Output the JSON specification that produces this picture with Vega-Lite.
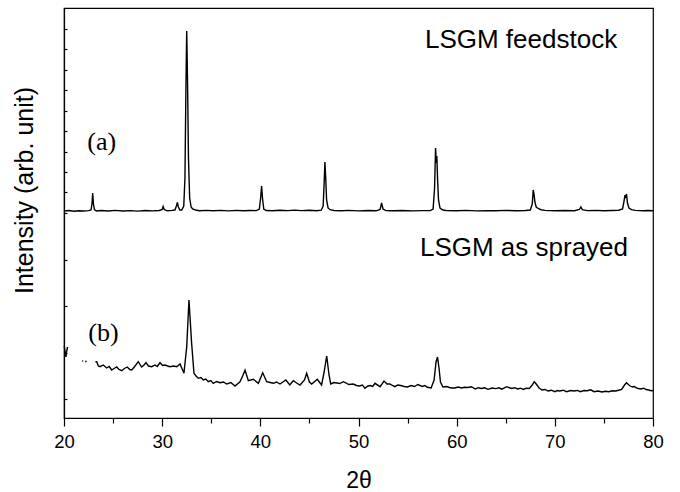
{
  "$schema": "https://vega.github.io/schema/vega-lite/v6.json",
  "width": 589,
  "height": 410,
  "autosize": {"type": "none"},
  "padding": {"left": 64, "top": 8, "right": 27, "bottom": 74},
  "config": {
    "view": {"stroke": "black", "strokeWidth": 1.2},
    "axis": {"grid": false, "domainColor": "black", "domainWidth": 1.2, "tickColor": "black", "tickWidth": 1.2, "labelColor": "black", "titleColor": "black", "labelFont": "Liberation Sans", "titleFont": "Liberation Sans", "titleFontWeight": "normal", "labelFlush": false}
  },
  "datasets": {
    "traces": [
      {"t": 20.0, "i": 207, "s": "a"}, {"t": 20.5, "i": 207.5, "s": "a"}, {"t": 21.0, "i": 206.8, "s": "a"}, {"t": 21.5, "i": 207.3, "s": "a"}, {"t": 22.0, "i": 207, "s": "a"}, {"t": 22.5, "i": 207.4, "s": "a"}, {"t": 22.75, "i": 208, "s": "a"}, {"t": 22.85, "i": 214, "s": "a"}, {"t": 22.92, "i": 225, "s": "a"}, {"t": 23.0, "i": 214, "s": "a"}, {"t": 23.1, "i": 208.5, "s": "a"}, {"t": 23.3, "i": 207, "s": "a"}, {"t": 23.8, "i": 207.5, "s": "a"}, {"t": 24.5, "i": 207, "s": "a"}, {"t": 25.2, "i": 207.6, "s": "a"}, {"t": 26.0, "i": 207, "s": "a"}, {"t": 26.8, "i": 207.4, "s": "a"}, {"t": 27.5, "i": 206.9, "s": "a"}, {"t": 28.3, "i": 207.5, "s": "a"}, {"t": 29.0, "i": 207.1, "s": "a"}, {"t": 29.7, "i": 207.5, "s": "a"}, {"t": 30.0, "i": 208.5, "s": "a"}, {"t": 30.1, "i": 211.5, "s": "a"}, {"t": 30.2, "i": 208.5, "s": "a"}, {"t": 30.5, "i": 207.2, "s": "a"}, {"t": 31.0, "i": 207.6, "s": "a"}, {"t": 31.3, "i": 208, "s": "a"}, {"t": 31.45, "i": 212, "s": "a"}, {"t": 31.55, "i": 215.5, "s": "a"}, {"t": 31.65, "i": 211, "s": "a"}, {"t": 31.8, "i": 208, "s": "a"}, {"t": 32.0, "i": 208, "s": "a"}, {"t": 32.2, "i": 212, "s": "a"}, {"t": 32.32, "i": 240, "s": "a"}, {"t": 32.42, "i": 330, "s": "a"}, {"t": 32.5, "i": 387, "s": "a"}, {"t": 32.58, "i": 340, "s": "a"}, {"t": 32.68, "i": 260, "s": "a"}, {"t": 32.8, "i": 220, "s": "a"}, {"t": 32.95, "i": 211, "s": "a"}, {"t": 33.1, "i": 209, "s": "a"}, {"t": 33.4, "i": 208, "s": "a"}, {"t": 33.8, "i": 207.3, "s": "a"}, {"t": 34.5, "i": 207.6, "s": "a"}, {"t": 35.2, "i": 207.2, "s": "a"}, {"t": 36.0, "i": 207.6, "s": "a"}, {"t": 36.8, "i": 207.1, "s": "a"}, {"t": 37.5, "i": 207.6, "s": "a"}, {"t": 38.3, "i": 207.2, "s": "a"}, {"t": 39.0, "i": 207.5, "s": "a"}, {"t": 39.6, "i": 207.4, "s": "a"}, {"t": 39.9, "i": 209, "s": "a"}, {"t": 40.03, "i": 220, "s": "a"}, {"t": 40.13, "i": 232, "s": "a"}, {"t": 40.23, "i": 219, "s": "a"}, {"t": 40.35, "i": 209, "s": "a"}, {"t": 40.6, "i": 207.5, "s": "a"}, {"t": 41.2, "i": 207.2, "s": "a"}, {"t": 42.0, "i": 207.8, "s": "a"}, {"t": 42.8, "i": 207.4, "s": "a"}, {"t": 43.5, "i": 207.9, "s": "a"}, {"t": 44.2, "i": 207.4, "s": "a"}, {"t": 45.0, "i": 207.8, "s": "a"}, {"t": 45.7, "i": 207.3, "s": "a"}, {"t": 46.2, "i": 207.8, "s": "a"}, {"t": 46.4, "i": 212, "s": "a"}, {"t": 46.5, "i": 235, "s": "a"}, {"t": 46.58, "i": 256, "s": "a"}, {"t": 46.66, "i": 240, "s": "a"}, {"t": 46.75, "i": 218, "s": "a"}, {"t": 46.9, "i": 210, "s": "a"}, {"t": 47.1, "i": 208.3, "s": "a"}, {"t": 47.5, "i": 207.5, "s": "a"}, {"t": 48.3, "i": 207.2, "s": "a"}, {"t": 49.0, "i": 207.6, "s": "a"}, {"t": 50.0, "i": 207.1, "s": "a"}, {"t": 51.0, "i": 207.5, "s": "a"}, {"t": 51.8, "i": 207.2, "s": "a"}, {"t": 52.2, "i": 208.5, "s": "a"}, {"t": 52.35, "i": 215, "s": "a"}, {"t": 52.5, "i": 209, "s": "a"}, {"t": 52.8, "i": 207.4, "s": "a"}, {"t": 53.5, "i": 207.2, "s": "a"}, {"t": 54.5, "i": 207.5, "s": "a"}, {"t": 55.5, "i": 207.1, "s": "a"}, {"t": 56.5, "i": 207.4, "s": "a"}, {"t": 57.3, "i": 207.4, "s": "a"}, {"t": 57.6, "i": 209, "s": "a"}, {"t": 57.75, "i": 230, "s": "a"}, {"t": 57.85, "i": 270, "s": "a"}, {"t": 57.92, "i": 255, "s": "a"}, {"t": 57.98, "i": 262, "s": "a"}, {"t": 58.05, "i": 240, "s": "a"}, {"t": 58.15, "i": 218, "s": "a"}, {"t": 58.3, "i": 210, "s": "a"}, {"t": 58.6, "i": 208, "s": "a"}, {"t": 59.0, "i": 207.4, "s": "a"}, {"t": 60.0, "i": 207.3, "s": "a"}, {"t": 61.0, "i": 207.6, "s": "a"}, {"t": 62.0, "i": 207.1, "s": "a"}, {"t": 63.0, "i": 207.4, "s": "a"}, {"t": 64.0, "i": 207.2, "s": "a"}, {"t": 65.0, "i": 207.6, "s": "a"}, {"t": 66.0, "i": 207.2, "s": "a"}, {"t": 67.0, "i": 207.5, "s": "a"}, {"t": 67.5, "i": 208, "s": "a"}, {"t": 67.7, "i": 214, "s": "a"}, {"t": 67.8, "i": 228, "s": "a"}, {"t": 67.88, "i": 224, "s": "a"}, {"t": 67.97, "i": 216, "s": "a"}, {"t": 68.1, "i": 211, "s": "a"}, {"t": 68.3, "i": 209.5, "s": "a"}, {"t": 68.6, "i": 208.3, "s": "a"}, {"t": 69.0, "i": 207.6, "s": "a"}, {"t": 70.0, "i": 207.2, "s": "a"}, {"t": 71.0, "i": 207.5, "s": "a"}, {"t": 72.0, "i": 207.3, "s": "a"}, {"t": 72.5, "i": 208.5, "s": "a"}, {"t": 72.65, "i": 211, "s": "a"}, {"t": 72.8, "i": 208.3, "s": "a"}, {"t": 73.3, "i": 207.4, "s": "a"}, {"t": 74.2, "i": 207.6, "s": "a"}, {"t": 75.0, "i": 207.3, "s": "a"}, {"t": 75.8, "i": 207.5, "s": "a"}, {"t": 76.5, "i": 207.8, "s": "a"}, {"t": 76.9, "i": 209, "s": "a"}, {"t": 77.05, "i": 217, "s": "a"}, {"t": 77.15, "i": 223, "s": "a"}, {"t": 77.22, "i": 220, "s": "a"}, {"t": 77.3, "i": 224, "s": "a"}, {"t": 77.4, "i": 215, "s": "a"}, {"t": 77.55, "i": 210, "s": "a"}, {"t": 77.8, "i": 208.3, "s": "a"}, {"t": 78.2, "i": 207.6, "s": "a"}, {"t": 79.0, "i": 207.3, "s": "a"}, {"t": 79.5, "i": 207.5, "s": "a"}, {"t": 80.0, "i": 207.2, "s": "a"},
      {"t": 20.03, "i": 72, "s": "b0"}, {"t": 20.12, "i": 66, "s": "b0"}, {"t": 20.2, "i": 61, "s": "b0"}, {"t": 20.28, "i": 67, "s": "b0"}, {"t": 20.36, "i": 71, "s": "b0"},
      {"t": 21.85, "i": 57, "s": "b1"}, {"t": 21.95, "i": 57, "s": "b1"},
      {"t": 22.15, "i": 56.5, "s": "b2"}, {"t": 22.3, "i": 56.5, "s": "b2"},
      {"t": 23.2, "i": 56.3, "s": "b"}, {"t": 23.33, "i": 56.3, "s": "b"}, {"t": 23.5, "i": 52, "s": "b"}, {"t": 23.67, "i": 51.3, "s": "b"}, {"t": 24.0, "i": 53, "s": "b"}, {"t": 24.35, "i": 50, "s": "b"}, {"t": 24.6, "i": 51.5, "s": "b"}, {"t": 24.86, "i": 48, "s": "b"}, {"t": 25.1, "i": 49.5, "s": "b"}, {"t": 25.37, "i": 51, "s": "b"}, {"t": 25.6, "i": 48.5, "s": "b"}, {"t": 25.88, "i": 47.3, "s": "b"}, {"t": 26.15, "i": 49.5, "s": "b"}, {"t": 26.45, "i": 51, "s": "b"}, {"t": 26.7, "i": 48.5, "s": "b"}, {"t": 26.9, "i": 48, "s": "b"}, {"t": 27.2, "i": 51.5, "s": "b"}, {"t": 27.57, "i": 56.3, "s": "b"}, {"t": 27.9, "i": 51, "s": "b"}, {"t": 28.15, "i": 53, "s": "b"}, {"t": 28.35, "i": 55.3, "s": "b"}, {"t": 28.6, "i": 52, "s": "b"}, {"t": 28.93, "i": 51.3, "s": "b"}, {"t": 29.27, "i": 53, "s": "b"}, {"t": 29.5, "i": 51.5, "s": "b"}, {"t": 29.78, "i": 55.3, "s": "b"}, {"t": 30.05, "i": 52.5, "s": "b"}, {"t": 30.29, "i": 53, "s": "b"}, {"t": 30.55, "i": 52, "s": "b"}, {"t": 30.8, "i": 51.3, "s": "b"}, {"t": 31.15, "i": 52, "s": "b"}, {"t": 31.48, "i": 51.3, "s": "b"}, {"t": 31.82, "i": 54, "s": "b"}, {"t": 32.22, "i": 44.7, "s": "b"}, {"t": 32.5, "i": 71.3, "s": "b"}, {"t": 32.73, "i": 118, "s": "b"}, {"t": 33.0, "i": 75, "s": "b"}, {"t": 33.24, "i": 44.7, "s": "b"}, {"t": 33.45, "i": 42, "s": "b"}, {"t": 33.68, "i": 39.7, "s": "b"}, {"t": 33.95, "i": 40.5, "s": "b"}, {"t": 34.19, "i": 38, "s": "b"}, {"t": 34.45, "i": 39, "s": "b"}, {"t": 34.7, "i": 36.3, "s": "b"}, {"t": 34.95, "i": 37.5, "s": "b"}, {"t": 35.2, "i": 34.7, "s": "b"}, {"t": 35.55, "i": 36.5, "s": "b"}, {"t": 35.9, "i": 35.3, "s": "b"}, {"t": 36.25, "i": 36, "s": "b"}, {"t": 36.57, "i": 34, "s": "b"}, {"t": 37.0, "i": 35.5, "s": "b"}, {"t": 37.42, "i": 32, "s": "b"}, {"t": 37.93, "i": 36.3, "s": "b"}, {"t": 38.2, "i": 42, "s": "b"}, {"t": 38.44, "i": 48, "s": "b"}, {"t": 38.78, "i": 37.3, "s": "b"}, {"t": 39.29, "i": 38.7, "s": "b"}, {"t": 39.8, "i": 34.7, "s": "b"}, {"t": 40.24, "i": 45.3, "s": "b"}, {"t": 40.65, "i": 36.3, "s": "b"}, {"t": 41.0, "i": 35.5, "s": "b"}, {"t": 41.32, "i": 34.7, "s": "b"}, {"t": 41.65, "i": 36, "s": "b"}, {"t": 42.0, "i": 34, "s": "b"}, {"t": 42.6, "i": 38, "s": "b"}, {"t": 43.0, "i": 33, "s": "b"}, {"t": 43.36, "i": 37.3, "s": "b"}, {"t": 43.7, "i": 35, "s": "b"}, {"t": 44.04, "i": 33, "s": "b"}, {"t": 44.5, "i": 38, "s": "b"}, {"t": 44.72, "i": 44.7, "s": "b"}, {"t": 45.0, "i": 36, "s": "b"}, {"t": 45.23, "i": 34, "s": "b"}, {"t": 45.8, "i": 38.7, "s": "b"}, {"t": 46.24, "i": 33, "s": "b"}, {"t": 46.5, "i": 46, "s": "b"}, {"t": 46.76, "i": 62, "s": "b"}, {"t": 47.0, "i": 43, "s": "b"}, {"t": 47.17, "i": 34, "s": "b"}, {"t": 47.5, "i": 35.5, "s": "b"}, {"t": 47.8, "i": 35, "s": "b"}, {"t": 48.1, "i": 34.5, "s": "b"}, {"t": 48.45, "i": 36.3, "s": "b"}, {"t": 48.75, "i": 35, "s": "b"}, {"t": 49.0, "i": 33.5, "s": "b"}, {"t": 49.47, "i": 34, "s": "b"}, {"t": 49.8, "i": 32.5, "s": "b"}, {"t": 50.1, "i": 32, "s": "b"}, {"t": 50.4, "i": 33, "s": "b"}, {"t": 50.66, "i": 29.7, "s": "b"}, {"t": 50.95, "i": 32, "s": "b"}, {"t": 51.2, "i": 32.5, "s": "b"}, {"t": 51.45, "i": 31.5, "s": "b"}, {"t": 51.68, "i": 34.7, "s": "b"}, {"t": 52.2, "i": 31.3, "s": "b"}, {"t": 52.6, "i": 37, "s": "b"}, {"t": 52.9, "i": 34, "s": "b"}, {"t": 53.2, "i": 34, "s": "b"}, {"t": 53.45, "i": 32.5, "s": "b"}, {"t": 53.7, "i": 31.3, "s": "b"}, {"t": 54.0, "i": 33, "s": "b"}, {"t": 54.3, "i": 32.5, "s": "b"}, {"t": 54.65, "i": 31.5, "s": "b"}, {"t": 55.0, "i": 31, "s": "b"}, {"t": 55.35, "i": 32.5, "s": "b"}, {"t": 55.7, "i": 31.5, "s": "b"}, {"t": 56.05, "i": 33.5, "s": "b"}, {"t": 56.5, "i": 31.5, "s": "b"}, {"t": 56.75, "i": 32.5, "s": "b"}, {"t": 57.0, "i": 30.7, "s": "b"}, {"t": 57.4, "i": 30, "s": "b"}, {"t": 57.7, "i": 38, "s": "b"}, {"t": 57.9, "i": 56, "s": "b"}, {"t": 58.05, "i": 61, "s": "b"}, {"t": 58.2, "i": 50, "s": "b"}, {"t": 58.35, "i": 36, "s": "b"}, {"t": 58.6, "i": 31, "s": "b"}, {"t": 59.0, "i": 31.5, "s": "b"}, {"t": 59.25, "i": 30.5, "s": "b"}, {"t": 59.5, "i": 30, "s": "b"}, {"t": 59.8, "i": 30, "s": "b"}, {"t": 60.15, "i": 31, "s": "b"}, {"t": 60.5, "i": 30, "s": "b"}, {"t": 60.8, "i": 30.8, "s": "b"}, {"t": 61.1, "i": 30.5, "s": "b"}, {"t": 61.5, "i": 31.3, "s": "b"}, {"t": 61.9, "i": 29, "s": "b"}, {"t": 62.2, "i": 30.3, "s": "b"}, {"t": 62.5, "i": 29.5, "s": "b"}, {"t": 62.85, "i": 30.2, "s": "b"}, {"t": 63.2, "i": 28.7, "s": "b"}, {"t": 63.6, "i": 30, "s": "b"}, {"t": 64.0, "i": 29.4, "s": "b"}, {"t": 64.3, "i": 30.2, "s": "b"}, {"t": 64.6, "i": 28.8, "s": "b"}, {"t": 65.1, "i": 31.3, "s": "b"}, {"t": 65.6, "i": 29.5, "s": "b"}, {"t": 65.9, "i": 30.3, "s": "b"}, {"t": 66.2, "i": 29, "s": "b"}, {"t": 66.5, "i": 29.8, "s": "b"}, {"t": 66.8, "i": 28.5, "s": "b"}, {"t": 67.1, "i": 29.8, "s": "b"}, {"t": 67.4, "i": 29.5, "s": "b"}, {"t": 67.7, "i": 33, "s": "b"}, {"t": 67.9, "i": 36.3, "s": "b"}, {"t": 68.1, "i": 34, "s": "b"}, {"t": 68.4, "i": 30, "s": "b"}, {"t": 68.7, "i": 28, "s": "b"}, {"t": 69.0, "i": 28.5, "s": "b"}, {"t": 69.3, "i": 27, "s": "b"}, {"t": 69.65, "i": 27.8, "s": "b"}, {"t": 70.0, "i": 26.3, "s": "b"}, {"t": 70.25, "i": 27.5, "s": "b"}, {"t": 70.5, "i": 27, "s": "b"}, {"t": 70.85, "i": 27.8, "s": "b"}, {"t": 71.2, "i": 26.3, "s": "b"}, {"t": 71.6, "i": 27.5, "s": "b"}, {"t": 72.0, "i": 27, "s": "b"}, {"t": 72.3, "i": 27.6, "s": "b"}, {"t": 72.6, "i": 26.3, "s": "b"}, {"t": 72.95, "i": 27.5, "s": "b"}, {"t": 73.3, "i": 27.3, "s": "b"}, {"t": 73.65, "i": 28.2, "s": "b"}, {"t": 74.0, "i": 26.3, "s": "b"}, {"t": 74.4, "i": 27, "s": "b"}, {"t": 74.8, "i": 26, "s": "b"}, {"t": 75.15, "i": 26.8, "s": "b"}, {"t": 75.5, "i": 26.3, "s": "b"}, {"t": 75.85, "i": 27.2, "s": "b"}, {"t": 76.2, "i": 27, "s": "b"}, {"t": 76.5, "i": 27.8, "s": "b"}, {"t": 76.8, "i": 28.5, "s": "b"}, {"t": 77.1, "i": 33, "s": "b"}, {"t": 77.3, "i": 35.3, "s": "b"}, {"t": 77.6, "i": 32.5, "s": "b"}, {"t": 77.9, "i": 31, "s": "b"}, {"t": 78.1, "i": 31.5, "s": "b"}, {"t": 78.3, "i": 30.2, "s": "b"}, {"t": 78.5, "i": 29.5, "s": "b"}, {"t": 78.8, "i": 29, "s": "b"}, {"t": 79.05, "i": 29.8, "s": "b"}, {"t": 79.3, "i": 28.5, "s": "b"}, {"t": 79.55, "i": 28, "s": "b"}, {"t": 79.8, "i": 27.3, "s": "b"}, {"t": 80.0, "i": 27.5, "s": "b"}
    ],
    "sansLabels": [
      {"t": 56.77, "i": 370, "label": "LSGM feedstock"},
      {"t": 56.26, "i": 162, "label": "LSGM as sprayed"}
    ],
    "serifLabels": [
      {"t": 22.37, "i": 268, "label": "(a)"},
      {"t": 22.47, "i": 77, "label": "(b)"}
    ]
  },
  "resolve": {"axis": {"x": "independent", "y": "independent"}},
  "layer": [
    {
      "data": {"name": "traces"},
      "mark": {"type": "line", "color": "black", "strokeWidth": 1.4, "interpolate": "linear"},
      "encoding": {
        "x": {"field": "t", "type": "quantitative", "scale": {"domain": [20, 80], "nice": false, "zero": false},
          "axis": {"orient": "bottom", "values": [20, 30, 40, 50, 60, 70, 80], "tickSize": 8, "labelPadding": 6, "labelFontSize": 18.5, "title": "2θ", "titleFontSize": 23, "titleY": 69, "titleBaseline": "alphabetic"}},
        "y": {"field": "i", "type": "quantitative", "scale": {"domain": [0, 410], "nice": false, "zero": false},
          "axis": {"orient": "left", "values": [19, 65.5, 112, 158.5, 205, 225.5, 246, 266.5, 287, 307.5, 328, 348.5, 369, 389.5], "labels": false, "tickSize": -3, "title": "Intensity (arb. unit)", "titleFontSize": 25, "titleAngle": -90, "titleX": -32, "titleY": 182, "titleAlign": "center", "titleBaseline": "alphabetic"}},
        "detail": {"field": "s", "type": "nominal"}
      }
    },
    {
      "data": {"name": "sansLabels"},
      "mark": {"type": "text", "font": "Liberation Sans", "fontSize": 26, "align": "left", "baseline": "alphabetic", "color": "black"},
      "encoding": {
        "x": {"field": "t", "type": "quantitative", "axis": {"orient": "bottom", "values": [25, 35, 45, 55, 65, 75], "labels": false, "domain": false, "tickSize": 5, "title": null}},
        "y": {"field": "i", "type": "quantitative", "axis": null},
        "text": {"field": "label"}
      }
    },
    {
      "data": {"name": "serifLabels"},
      "mark": {"type": "text", "font": "Liberation Serif", "fontSize": 26, "align": "left", "baseline": "alphabetic", "color": "black"},
      "encoding": {
        "x": {"field": "t", "type": "quantitative", "axis": null},
        "y": {"field": "i", "type": "quantitative", "axis": null},
        "text": {"field": "label"}
      }
    }
  ]
}
